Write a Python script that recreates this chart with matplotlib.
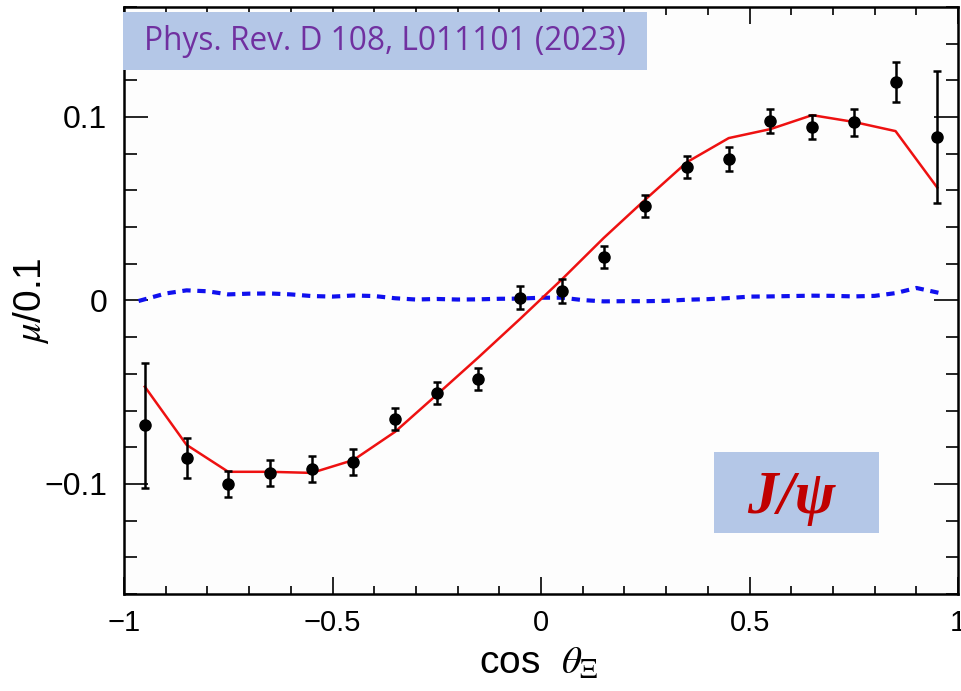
"""
mu/0.1 vs cos(theta_Xi) for J/psi -> Xi Xi-bar (Phys. Rev. D 108, L011101)
"""

import matplotlib
matplotlib.use('Agg')
import matplotlib.pyplot as plt
from matplotlib.patches import Rectangle
from matplotlib.ticker import MultipleLocator

plt.rcParams['font.family'] = ['Liberation Sans', 'DejaVu Sans']
plt.rcParams['mathtext.fontset'] = 'stix'

# data points (bin centres)
cos_bins = [-0.95, -0.85, -0.75, -0.65, -0.55, -0.45, -0.35, -0.25, -0.15, -0.05,
            0.05, 0.15, 0.25, 0.35, 0.45, 0.55, 0.65, 0.75, 0.85, 0.95]
mu_data = [-0.068, -0.086, -0.100, -0.094, -0.092, -0.088, -0.0645, -0.0505, -0.0426, 0.0016,
           0.005, 0.0235, 0.0517, 0.0727, 0.077, 0.098, 0.0945, 0.097, 0.119, 0.089]
mu_err = [0.034, 0.011, 0.007, 0.007, 0.007, 0.007, 0.006, 0.006, 0.006, 0.0065,
          0.0065, 0.006, 0.006, 0.006, 0.0065, 0.0065, 0.0065, 0.0075, 0.011, 0.036]

# fit curve (red)
mu_fit = [-0.047, -0.0787, -0.0934, -0.0934, -0.094, -0.087, -0.0716, -0.0514, -0.031, -0.010,
          0.0115, 0.034, 0.055, 0.0754, 0.0885, 0.0934, 0.101, 0.0973, 0.0923, 0.0615]

# blue dashed curve
cos_blue = [-0.965, -0.9, -0.85, -0.8, -0.75, -0.7, -0.65, -0.6, -0.55, -0.5,
            -0.45, -0.4, -0.35, -0.3, -0.25, -0.2, -0.15, -0.1, -0.05, 0.0,
            0.05, 0.1, 0.15, 0.2, 0.25, 0.3, 0.35, 0.4, 0.45, 0.5,
            0.55, 0.6, 0.65, 0.7, 0.75, 0.8, 0.85, 0.9, 0.965]
mu_blue = [-0.0003, 0.0038, 0.0055, 0.0050, 0.0033, 0.0037, 0.0038, 0.0033, 0.0024, 0.0021,
           0.0027, 0.0024, 0.0012, 0.0005, 0.0008, 0.0005, 0.0006, 0.0009, 0.0010, 0.0015,
           0.0015, 0.0002, -0.0005, -0.0004, -0.0004, -0.0002, 0.0004, 0.0007, 0.0013, 0.0021,
           0.0022, 0.0024, 0.0026, 0.0025, 0.0022, 0.0025, 0.0040, 0.0068, 0.0036]

fig = plt.figure(figsize=(9.61, 6.91), dpi=100)
ax = fig.add_axes([0.129, 0.1404, 0.868, 0.8496])
ax.set_facecolor('#fdfdfd')

# curves
ax.plot(cos_blue, mu_blue, color='#1010ee', linewidth=3.0, linestyle=(0, (2.0, 1.6)), zorder=2)
ax.plot(cos_bins, mu_fit, color='#ee1111', linewidth=1.8, zorder=3)

# data with error bars
ax.errorbar(cos_bins, mu_data, yerr=mu_err, fmt='o', color='black', markersize=8,
            elinewidth=1.8, capsize=3, capthick=1.8, zorder=4)

ax.set_xlim(-1, 1)
ax.set_ylim(-0.16, 0.16)
ax.xaxis.set_minor_locator(MultipleLocator(0.1))
ax.yaxis.set_minor_locator(MultipleLocator(0.02))
ax.set_xticks([-1, -0.5, 0, 0.5, 1])
ax.set_xticklabels(['\u22121', '\u22120.5', '0', '0.5', '1'])
ax.set_yticks([-0.1, 0, 0.1])
ax.set_yticklabels(['\u22120.1', '0', '0.1'])

ax.tick_params(axis='both', which='both', direction='in', top=True, right=True,
               width=1.2, colors='black')
ax.tick_params(axis='x', which='major', length=12, pad=11, labelsize=21)
ax.tick_params(axis='x', which='minor', length=6)
ax.tick_params(axis='y', which='major', length=17, pad=12, labelsize=23)
ax.tick_params(axis='y', which='minor', length=9)
for sp in ax.spines.values():
    sp.set_linewidth(1.8)

ax.set_xlabel(r'cos  $\theta_{\Xi}$', fontsize=28)
ax.xaxis.set_label_coords(0.497, -0.088)
ax.set_ylabel(r'$\mu$/0.1', fontsize=28)
ax.yaxis.set_label_coords(-0.087, 0.5)

# annotation boxes
fig.patches.append(Rectangle((0.128, 0.8987), 0.545, 0.0839, transform=fig.transFigure,
                             facecolor='#b4c7e7', edgecolor='none', zorder=5))
fig.text(0.4005, 0.9405, 'Phys. Rev. D 108, L011101 (2023)', color='#7030a0',
         fontsize=22.8, ha='center', va='center', family=['Open Sans', 'DejaVu Sans'], zorder=6)

fig.patches.append(Rectangle((0.743, 0.2287), 0.1717, 0.117, transform=fig.transFigure,
                             facecolor='#b4c7e7', edgecolor='none', zorder=5))
fig.text(0.824, 0.279, 'J/\u03c8', color='#c00000', fontsize=44, ha='center', va='center',
         family=['Liberation Serif', 'DejaVu Serif'], style='italic', weight='bold', zorder=6)

fig.savefig('out.png', dpi=100)
